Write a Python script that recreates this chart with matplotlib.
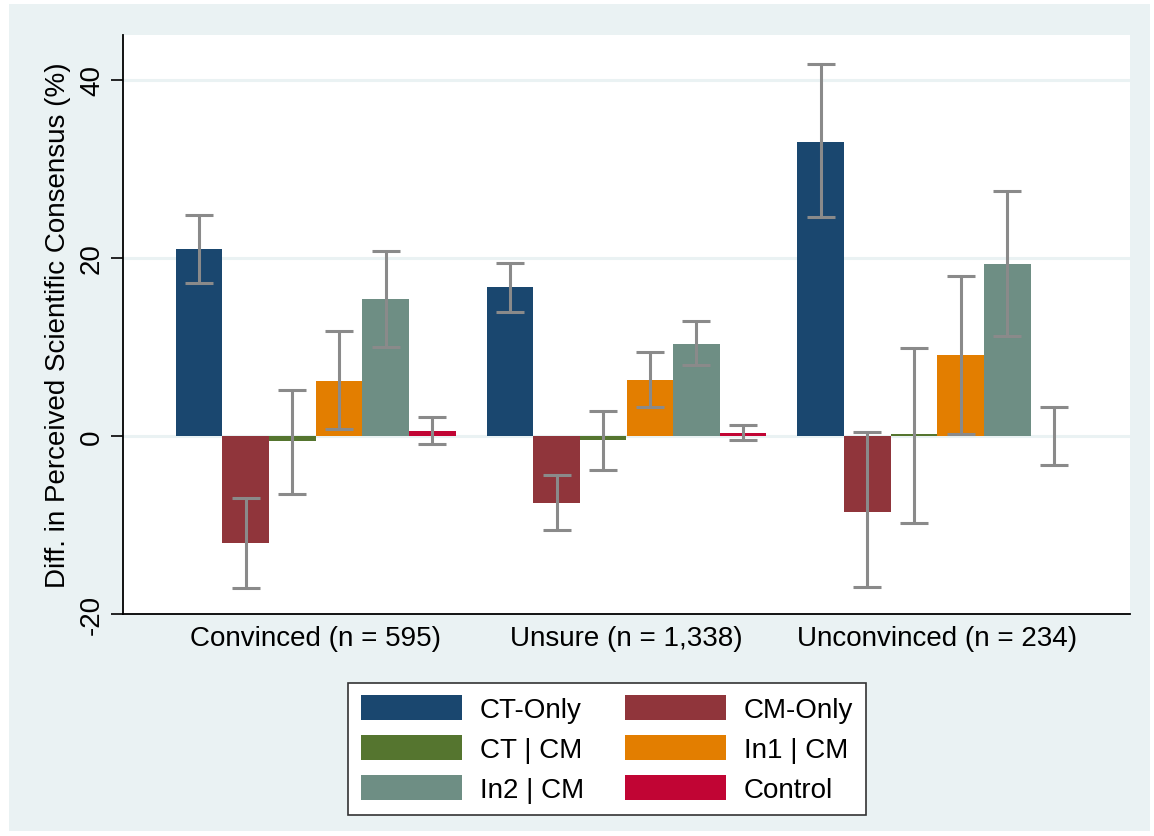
import numpy as np
import matplotlib.pyplot as plt
from matplotlib.patches import Rectangle, Patch

plt.rcParams['font.family'] = ['Liberation Sans', 'DejaVu Sans']

groups = ['Convinced (n = 595)', 'Unsure (n = 1,338)', 'Unconvinced (n = 234)']
series = ['CT-Only', 'CM-Only', 'CT | CM', 'In1 | CM', 'In2 | CM', 'Control']
colors = ['#1A476F', '#90353B', '#55752F', '#E37E00', '#6E8E84', '#C10534']

# mean difference per series, one value per group
ct_only = [21.0, 16.7, 33.0]
cm_only = [-12.0, -7.5, -8.5]
ct_cm = [-0.6, -0.5, 0.2]
in1_cm = [6.2, 6.3, 9.1]
in2_cm = [15.4, 10.3, 19.3]
control = [0.5, 0.3, 0.0]

# confidence interval bounds
ct_only_lo = [17.2, 13.9, 24.6]
ct_only_hi = [24.8, 19.4, 41.7]
cm_only_lo = [-17.1, -10.6, -17.0]
cm_only_hi = [-7.0, -4.4, 0.4]
ct_cm_lo = [-6.5, -3.8, -9.8]
ct_cm_hi = [5.1, 2.8, 9.9]
in1_cm_lo = [0.8, 3.2, 0.2]
in1_cm_hi = [11.8, 9.4, 17.9]
in2_cm_lo = [10.0, 8.0, 11.2]
in2_cm_hi = [20.8, 12.9, 27.5]
control_lo = [-0.9, -0.5, -3.3]
control_hi = [2.1, 1.2, 3.2]

values = [ct_only, cm_only, ct_cm, in1_cm, in2_cm, control]
lows = [ct_only_lo, cm_only_lo, ct_cm_lo, in1_cm_lo, in2_cm_lo, control_lo]
highs = [ct_only_hi, cm_only_hi, ct_cm_hi, in1_cm_hi, in2_cm_hi, control_hi]

bg = '#EAF2F3'
W, H = 1154, 837
fs = 20
fig = plt.figure(figsize=(W / 100, H / 100), dpi=100)
fig.patch.set_facecolor('white')
fig.patches.append(Rectangle((9 / W, 5 / H), (1150 - 9) / W, (832 - 5) / H,
                             transform=fig.transFigure, facecolor=bg,
                             edgecolor='none', zorder=-10))

ax = fig.add_axes([123 / W, 1 - 615 / H, (1130 - 123) / W, (615 - 36) / H])
ax.set_facecolor('white')

x = np.arange(len(groups))
bw = 0.15
for i, name in enumerate(series):
    pos = x + (i - 2.5) * bw
    v = np.array(values[i])
    ax.bar(pos, v, width=bw, color=colors[i], edgecolor='none', zorder=2, label=name)
    lo = v - np.array(lows[i])
    hi = np.array(highs[i]) - v
    ax.errorbar(pos, v, yerr=[lo, hi], fmt='none', ecolor='#8A8A8A',
                elinewidth=2.2, capsize=10, capthick=2.2, zorder=3)

ax.set_xlim(-0.62, 2.62)
ax.set_ylim(-20, 45)
ax.set_yticks([-20, 0, 20, 40])
ax.set_yticklabels(['-20', '0', '20', '40'], rotation=90, va='center')
for t in [0, 20, 40]:
    ax.axhline(t, color=bg, lw=2.2, zorder=1)

ax.set_xticks(x)
ax.set_xticklabels(groups, fontsize=fs)
ax.tick_params(axis='x', length=0, pad=8)
ax.tick_params(axis='y', labelsize=fs, length=9, width=1.2, pad=4)
ax.set_ylabel('Diff. in Perceived Scientific Consensus (%)', fontsize=fs, labelpad=6)

for s in ['top', 'right']:
    ax.spines[s].set_visible(False)
ax.spines['left'].set_linewidth(1.3)
ax.spines['bottom'].set_linewidth(1.3)

# legend fills row by row like the original
order = [0, 2, 4, 1, 3, 5]
handles = [Patch(facecolor=colors[k], edgecolor='none') for k in order]
labels = [series[k] for k in order]
leg = fig.legend(handles, labels, loc='center', ncol=2,
                 bbox_to_anchor=(607 / W, 1 - 750 / H), fontsize=fs,
                 handlelength=3.65, handleheight=1.0, labelspacing=0.42,
                 columnspacing=1.45, handletextpad=0.65, borderpad=0.45,
                 frameon=True, fancybox=False, edgecolor='#333333',
                 facecolor='white', framealpha=1)
leg.get_frame().set_linewidth(1.2)

fig.savefig('out.png', dpi=100, facecolor=fig.get_facecolor())
